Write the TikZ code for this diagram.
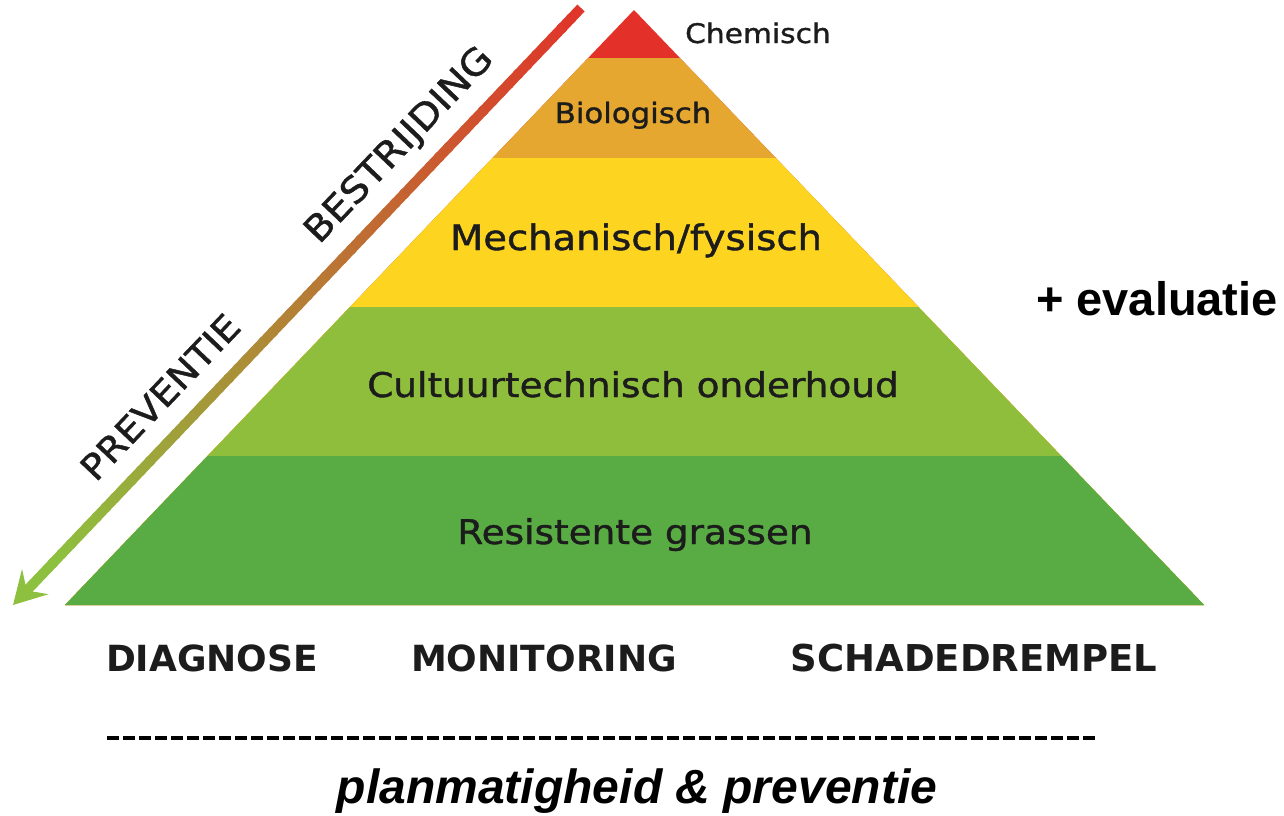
\documentclass[tikz,border=0pt]{standalone}
\usepackage{fontspec}
\setmainfont{Liberation Sans}
\newfontfamily\pyrfont[FakeStretch=1.1,FakeBold=1.2]{DejaVu Sans}
\newfontfamily\kopfont{DejaVu Sans}
\usetikzlibrary{arrows.meta,calc}
\definecolor{chemrood}{HTML}{E3312A}
\definecolor{bioorange}{HTML}{E5A72F}
\definecolor{mechgeel}{HTML}{FDD41F}
\definecolor{cultgroen}{HTML}{8FBE3C}
\definecolor{resgroen}{HTML}{58AC43}
\definecolor{pijlrood}{HTML}{E0352A}
\definecolor{pijlgroen}{HTML}{8DC03F}
\definecolor{tekst}{HTML}{1C1C1C}
\begin{document}
\begin{tikzpicture}[x=1pt,y=1pt,
laag/.style={text=tekst, inner sep=0pt, anchor=base, font=\pyrfont\fontsize{#1}{#1}\selectfont},
schuin/.style={text=tekst, inner sep=0pt, rotate=46.4, font=\pyrfont\fontsize{#1}{#1}\selectfont},
kop/.style={text=tekst, inner sep=0pt, anchor=base, font=\kopfont\bfseries\fontsize{#1}{#1}\selectfont},
extra/.style={text=black, inner sep=0pt, anchor=base, font=\bfseries\fontsize{#1}{#1}\selectfont}]
\useasboundingbox (0,0) rectangle (1284,-815);
\coordinate (top) at (634,-10);
\coordinate (links) at (65,-605);
\coordinate (rechts) at (1204,-605);
\begin{scope}
\clip (top) -- (links) -- (rechts) -- cycle;
\fill[chemrood] (0,0) rectangle (1284,-610);
\fill[bioorange] (0,-58) rectangle (1284,-610);
\fill[mechgeel] (0,-158) rectangle (1284,-610);
\fill[cultgroen] (0,-307) rectangle (1284,-610);
\fill[resgroen] (0,-456) rectangle (1284,-610);
\end{scope}
\node[laag=27] (chemisch) at (758,-43) {Chemisch};
\node[laag=28] (biologisch) at (633,-123) {Biologisch};
\node[laag=35] (mechanisch) at (636,-250) {Mechanisch/fysisch};
\node[laag=34] (cultuur) at (633,-397) {Cultuurtechnisch onderhoud};
\node[laag=34] (resistent) at (635,-544) {Resistente grassen};
\coordinate (pijlbegin) at (581,-8);
\coordinate (pijlpunt) at (13,-605);
\coordinate (pijlvoet) at ($(pijlpunt)!60pt!(pijlbegin)$);
\foreach \i in {0,...,59}{
\pgfmathtruncatemacro\pct{100*\i/59}
\draw[pijlgroen!\pct!pijlrood, line width=10pt] ($(pijlbegin)!{\i/60}!(pijlvoet)$) -- ($(pijlbegin)!{(\i+1.3)/60}!(pijlvoet)$);
}
\draw[pijlgroen, line width=10pt, -{Stealth[length=32pt,width=36pt,inset=12pt]}] (pijlvoet) -- (pijlpunt);
\node[schuin=36] (bestrijding) at (400,-146) {BESTRIJDING};
\node[schuin=35] (preventie) at (160,-397) {PREVENTIE};
\node[extra=47] (evaluatie) at (1157,-315) {+ evaluatie};
\node[kop=36] (diagnose) at (212,-671) {DIAGNOSE};
\node[kop=36] (monitoring) at (544,-671) {MONITORING};
\node[kop=37] (schade) at (974,-671) {SCHADEDREMPEL};
\coordinate (streepbegin) at (107,-738);
\coordinate (streepeind) at (1097,-738);
\draw[black, line width=4.5pt, dash pattern=on 12pt off 4pt] (streepbegin) -- (streepeind);
\node[extra=48, font=\bfseries\itshape\fontsize{48}{48}\selectfont] (planmatig) at (637,-803) {planmatigheid \& preventie};
\end{tikzpicture}
\end{document}
